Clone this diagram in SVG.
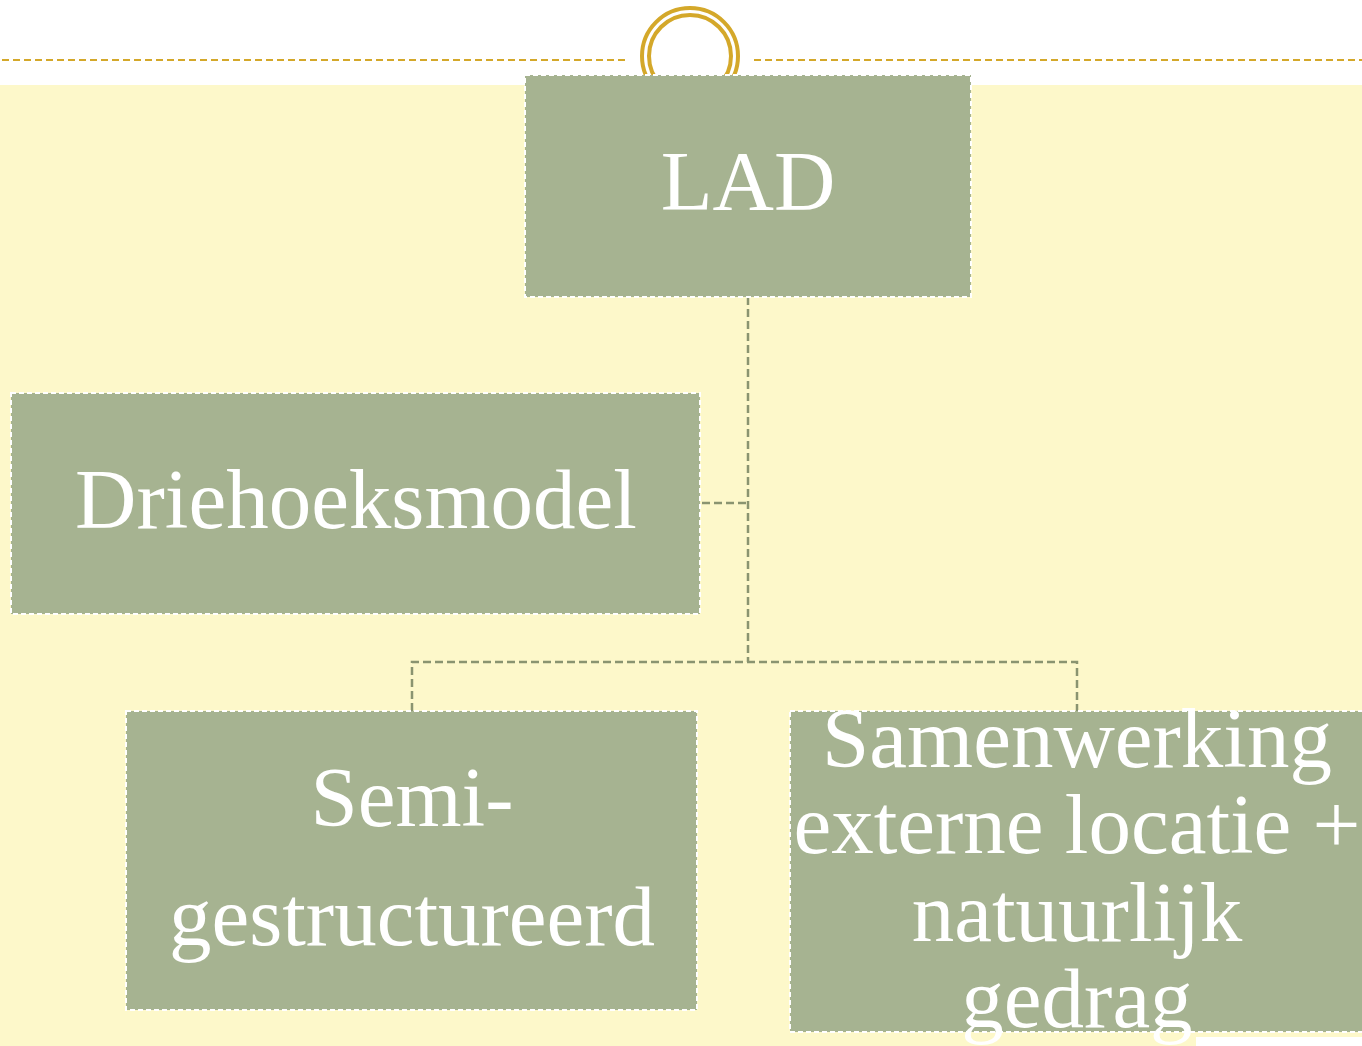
<svg xmlns="http://www.w3.org/2000/svg" width="1362" height="1046" viewBox="0 0 1362 1046">
<style>
.box{fill:#A6B391;stroke:#FFFFFF;stroke-width:2;stroke-dasharray:5 3}
.lbl{font-family:"Liberation Serif","Times New Roman",serif;font-size:85px;fill:#FFFFFF;text-anchor:middle}
.con{fill:none;stroke:#8A9470;stroke-width:2.5;stroke-dasharray:8 4}
.gold{fill:none;stroke:#D4A82A}
</style>
<rect x="0" y="0" width="1362" height="1046" fill="#FFFFFF"/>
<rect x="0" y="85" width="1362" height="961" fill="#FDF8CA"/>
<rect x="1196" y="1037" width="166" height="9" fill="#FFFFFF"/>
<g id="decor">
<line class="gold" x1="2" y1="60" x2="625" y2="60" stroke-width="2" stroke-dasharray="7 4"/>
<line class="gold" x1="754" y1="60" x2="1362" y2="60" stroke-width="2" stroke-dasharray="7 4"/>
<circle class="gold" cx="690" cy="56" r="48" stroke-width="4"/>
<circle class="gold" cx="690" cy="56" r="41" stroke-width="4"/>
</g>
<g id="connectors">
<path class="con" d="M748 297 V662"/>
<path class="con" d="M702 503 H748"/>
<path class="con" d="M412 711 V662 H1077 V711"/>
</g>
<g id="node-lad">
<rect class="box" x="525" y="75" width="446" height="222"/>
<text class="lbl" x="748" y="210">LAD</text>
</g>
<g id="node-driehoeksmodel">
<rect class="box" x="11" y="393" width="689" height="221"/>
<text class="lbl" x="356" y="528">Driehoeksmodel</text>
</g>
<g id="node-semi">
<rect class="box" x="126" y="711" width="571" height="299"/>
<text class="lbl" x="412" y="826">Semi-</text>
<text class="lbl" x="412" y="945">gestructureerd</text>
</g>
<g id="node-samenwerking">
<rect class="box" x="790" y="711" width="574" height="321"/>
<text class="lbl" x="1077" y="767">Samenwerking</text>
<text class="lbl" x="1077" y="853">externe locatie +</text>
<text class="lbl" x="1077" y="941">natuurlijk</text>
<text class="lbl" x="1077" y="1027">gedrag</text>
</g>
</svg>
